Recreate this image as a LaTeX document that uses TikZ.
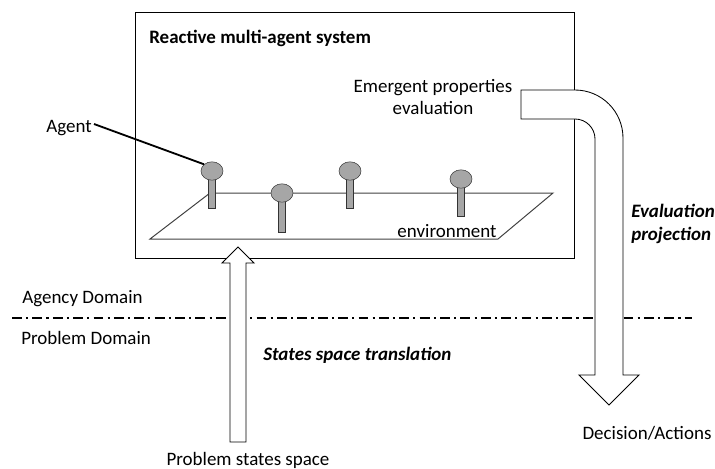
\documentclass[tikz,border=0pt]{standalone}
\usepackage{fontspec}
\setmainfont{Carlito}
\usetikzlibrary{positioning,shapes.geometric}

\begin{document}
\begin{tikzpicture}[
  x=0.25mm, y=-0.25mm,
  lbl/.style={font=\fontsize{13.5}{15.5}\selectfont, align=center, inner sep=0pt},
  ttl/.style={lbl, font=\fontsize{13.5}{15.5}\selectfont\bfseries},
  emph/.style={lbl, font=\fontsize{13.5}{16}\selectfont\bfseries\itshape, align=left},
  frame/.style={draw, line width=0.6pt},
  envplane/.style={draw=black!75, line width=0.7pt},
  head/.style={ellipse, draw=black!75, fill=black!35, minimum width=5.5mm, minimum height=4.6mm, inner sep=0pt},
  stem/.style={draw=black!80, fill=black!35, line width=0.5pt},
  pointer/.style={line width=1.3pt},
  hollow/.style={draw, fill=white, line width=0.6pt},
  domainline/.style={line width=1.4pt, dash pattern=on 7pt off 3pt on 1.5pt off 3pt}
]
\useasboundingbox (0,0) rectangle (715,468);

% reactive system box
\draw[frame] (135,12) rectangle (574,258);
\node[ttl, anchor=west] (title) at (149,38) {Reactive multi-agent system};
\node[lbl] (emergent) at (433,97) {Emergent properties\\evaluation};

% environment and agents
\draw[envplane] (210,193) -- (553,193) -- (498,239) -- (150,239) -- cycle;
\foreach \x/\y/\b [count=\i] in {212/171/208, 282/193/232, 350/171/208, 461/179/216} {
  \draw[stem] (\x-3.5,\y) rectangle (\x+3.5,\b);
  \node[head] (head\i) at (\x,\y) {};
}
\node[lbl] (env) at (447,231) {environment};
\node[lbl, anchor=east] (agent) at (92,128) {Agent};
\draw[pointer] ([shift={(2,-4)}]agent.east) -- (head1.north west);

% domains
\coordinate (dl) at (12,318);
\coordinate (dr) at (692,318);
\draw[domainline] (dl) -- (dr);
\node[lbl, anchor=west] (agency) at (22,299) {Agency Domain};
\node[lbl, anchor=west] (problem) at (21,338) {Problem Domain};

% translation arrow
\draw[hollow] (230,442) -- (230,263) -- (222,263) -- (238,247) -- (254,263)
  -- (246,263) -- (246,442) -- cycle;
\node[lbl] (states) at (248,460) {Problem states space};
\node[emph, anchor=west] (translation) at (263,355) {States space translation};

% projection arrow
\draw[hollow] (521,90) -- (575,90) arc[start angle=-90, end angle=0, radius=48]
  -- (623,375) -- (639,375) -- (609,405) -- (579,375) -- (595,375)
  -- (595,139) arc[start angle=0, end angle=-90, radius=20] -- (521,119) -- cycle;
\node[emph, anchor=west] (projection) at (631,224) {Evaluation\\projection};
\node[lbl] (decision) at (647,433) {Decision/Actions};
\end{tikzpicture}
\end{document}
